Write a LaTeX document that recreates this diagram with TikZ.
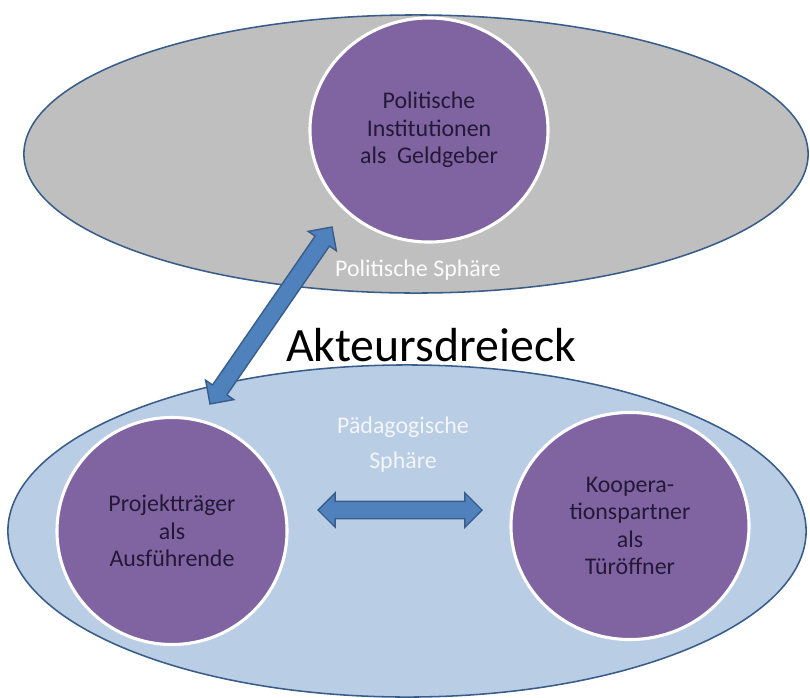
\documentclass[tikz,border=0pt]{standalone}
\usepackage{fontspec}
\setmainfont{Carlito}
\usepackage{tikz}
\usetikzlibrary{
  calc,
  shapes.geometric,
  shapes.arrows
}
\definecolor{sphgrey}{RGB}{191,191,191}
\definecolor{sphblue}{RGB}{185,205,229}
\definecolor{rim}{RGB}{56,93,138}
\definecolor{actor}{RGB}{128,100,162}
\definecolor{actortext}{RGB}{35,25,55}
\definecolor{arrowblue}{RGB}{79,129,189}
\tikzset{
  sphere/.style={
    ellipse,
    draw=rim,
    fill=#1,
    line width=1.1pt,
    inner sep=0pt
  },
  actorbox/.style={
    ellipse,
    draw=white,
    fill=actor,
    line width=2.2pt,
    inner sep=0pt,
    align=center,
    text=actortext,
    font=\fontsize{17}{19.6}\selectfont
  },
  spherelabel/.style={
    align=center,
    text=#1,
    font=\fontsize{17}{25}\selectfont
  },
  biarrow/.style={
    double arrow,
    draw=rim,
    fill=arrowblue,
    line width=1pt,
    inner xsep=0pt,
    inner ysep=0.2cm,
    double arrow head extend=0.21cm
  }
}

\begin{document}
\begin{tikzpicture}[x=0.025cm, y=-0.025cm]
  \useasboundingbox[fill=white] (0,0) rectangle (810,698);
  % spheres
  \node[sphere=sphgrey, minimum width=19.6cm, minimum height=6.95cm] (polsph) at (416,154) {};
  \node[sphere=sphblue, minimum width=19.95cm, minimum height=8.3cm] (paedsph) at (407,531) {};
  \node[spherelabel=white!95!sphgrey] (pollbl) at (418,270) {Politische Sphäre};
  \node[spherelabel=white!82!sphblue] (paedlbl) at (403,445) {Pädagogische\\Sphäre};
  % actors
  \node[actorbox, minimum width=5.95cm, minimum height=5.6cm] (geld) at (429,130) {Politische\\Institutionen\\als\ \ Geldgeber};
  \node[actorbox, minimum width=5.75cm, minimum height=5.675cm] (traeger) at (172,531) {Projektträger\\als\\Ausführende};
  \node[actorbox, minimum width=5.95cm, minimum height=5.675cm] (partner) at (630,526) {Koopera-\\tionspartner\\als\\Türöffner};
  \node[font=\fontsize{34}{40}\selectfont] (title) at (431,345) {Akteursdreieck};
  % arrows
  \coordinate (a1) at (210,404);
  \coordinate (b1) at (332,227);
  \coordinate (a2) at (318,510);
  \coordinate (b2) at (482,510);
  \foreach \a/\b/\lnk in {a1/b1/link1,a2/b2/link2}
    \path let \p1=($(\b)-(\a)$), \n1={veclen(\x1,\y1)}, \n2={atan2(\y1,\x1)} in
      node[biarrow, minimum height=\n1, rotate=\n2] (\lnk) at ($(\a)!0.5!(\b)$) {};
\end{tikzpicture}
\end{document}
